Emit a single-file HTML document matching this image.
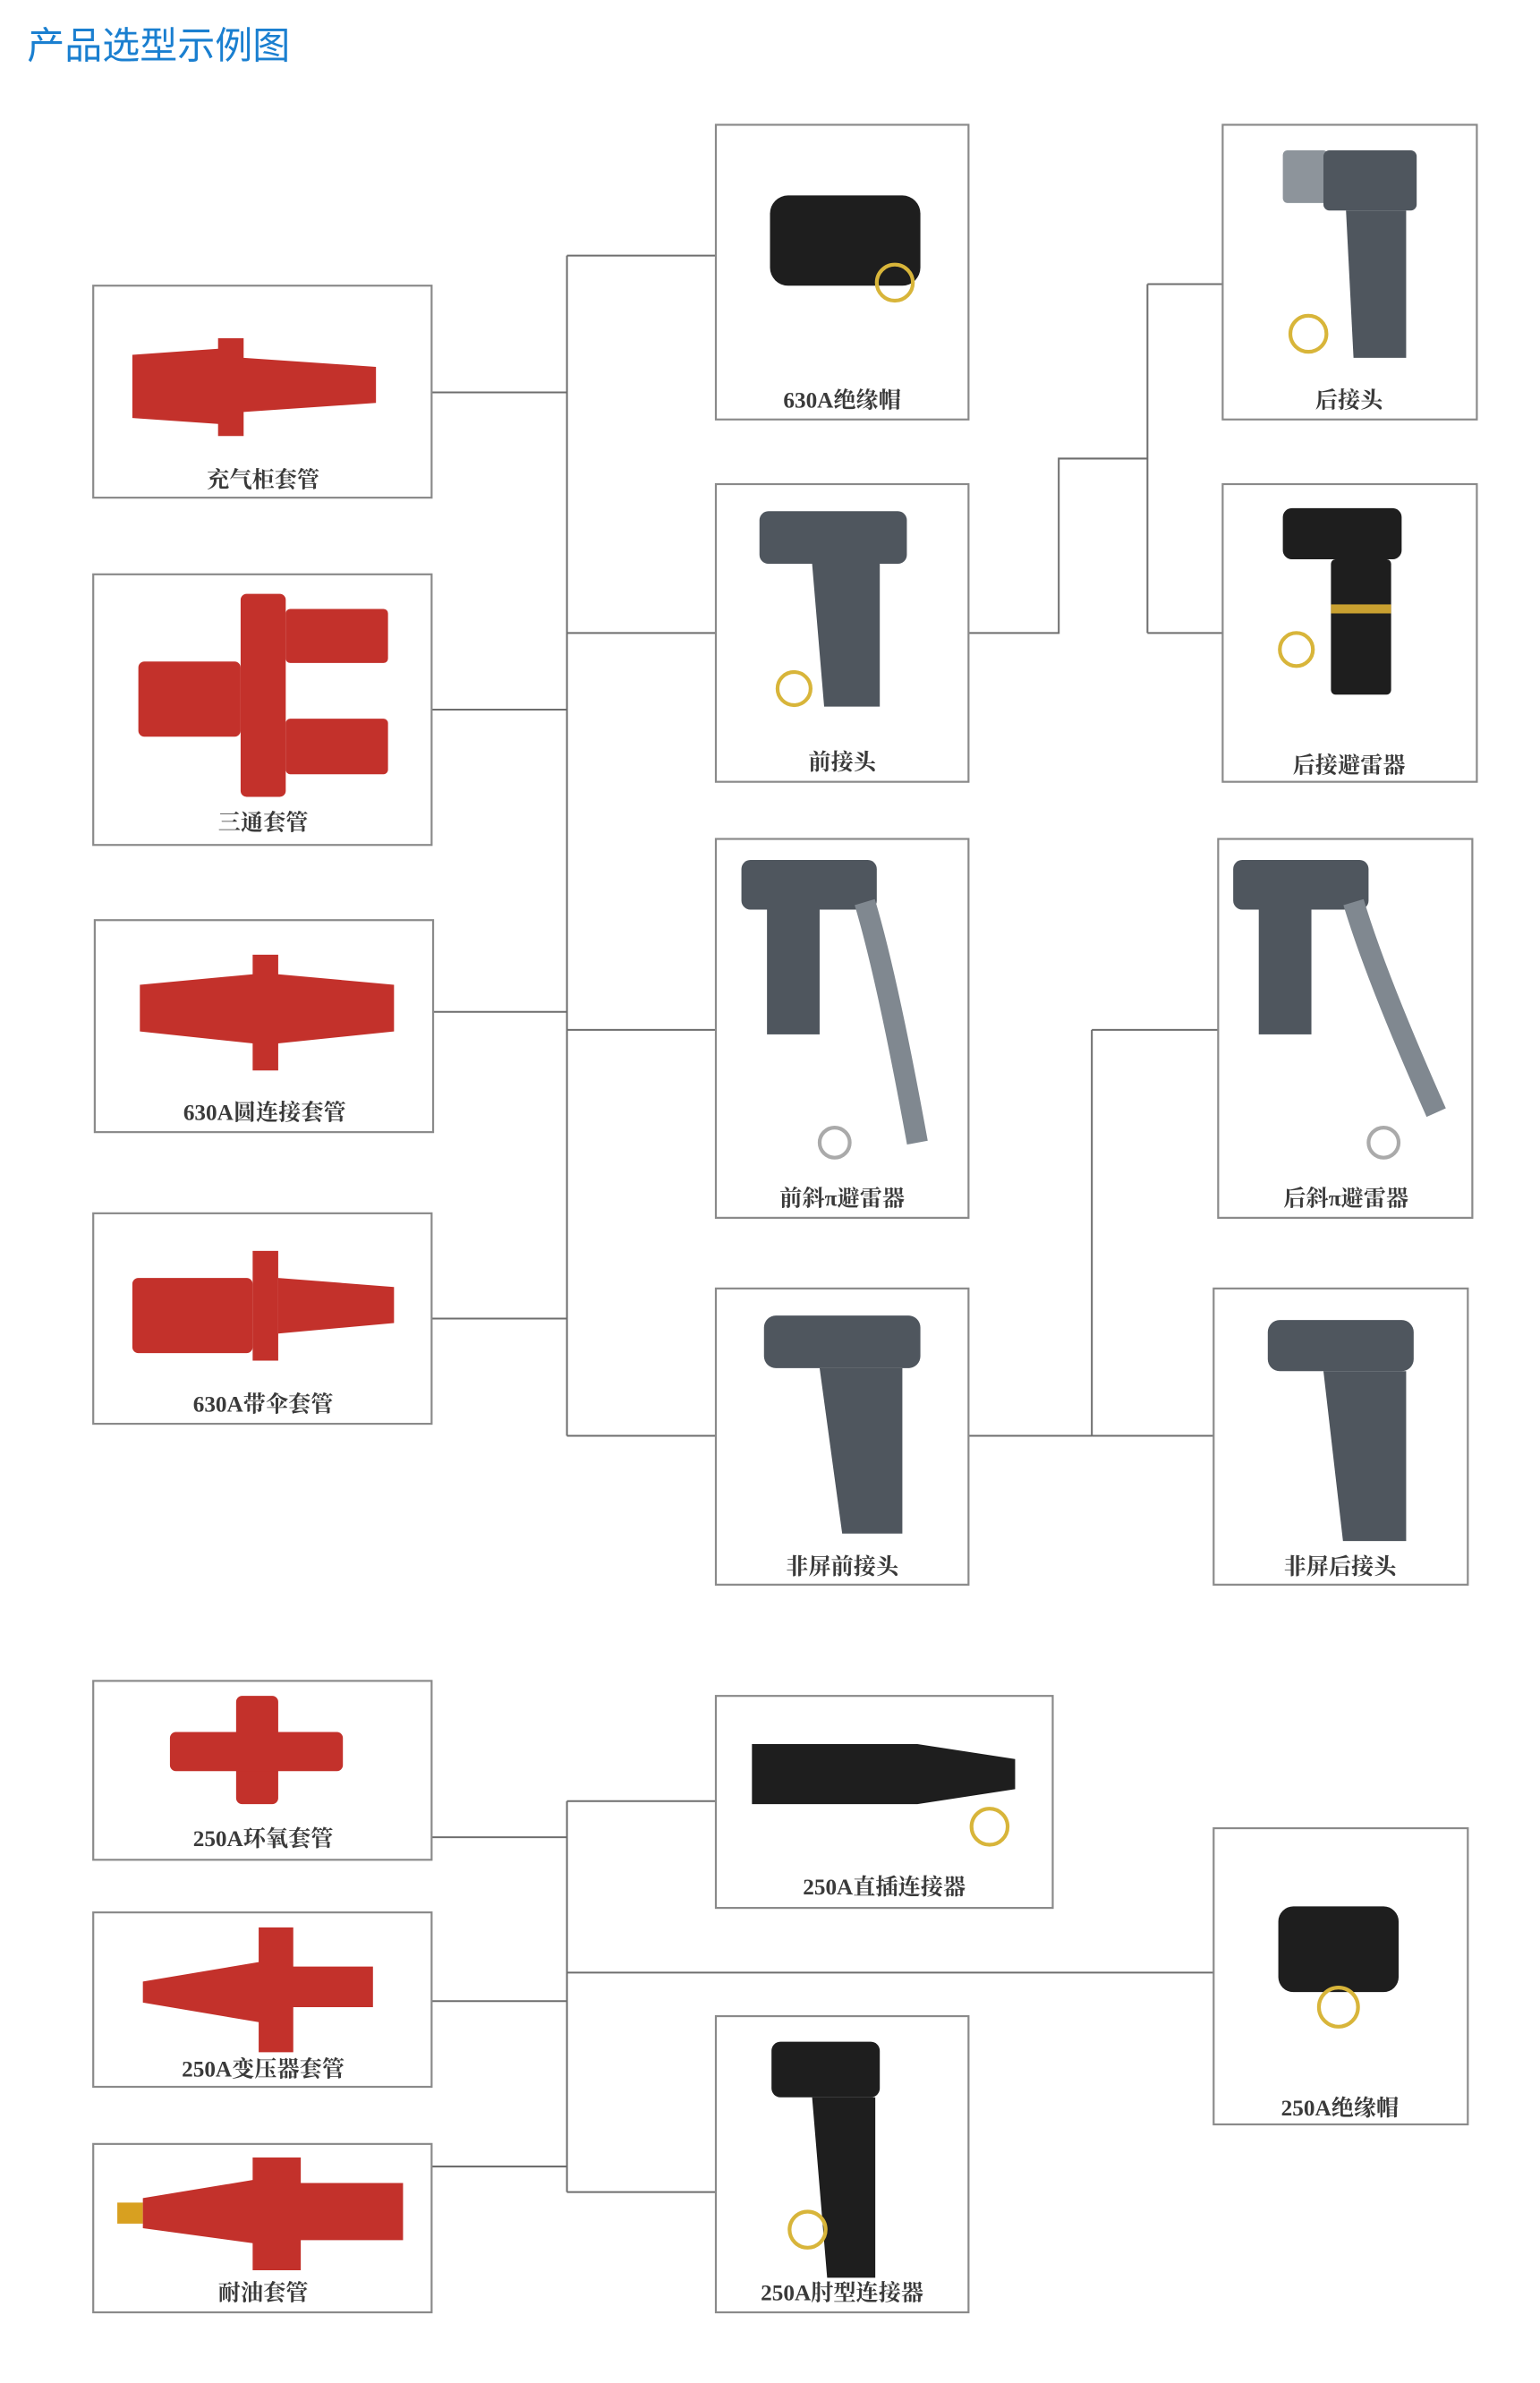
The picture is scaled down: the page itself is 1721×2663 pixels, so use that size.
<!DOCTYPE html>
<html><head><meta charset="utf-8"><style>
html,body{margin:0;padding:0;background:#fff}
svg{display:block}
text{font-family:"Liberation Serif","Noto Serif CJK SC",serif;font-weight:bold;fill:#3a3a3a;font-size:15px}
.t{font-family:"Liberation Sans","Noto Sans CJK SC",sans-serif;font-weight:normal;fill:#1a7fd0;font-size:25px}
.b{fill:#fff;stroke:#8a8a8a;stroke-width:1.3}
.l{stroke:#6e6e6e;stroke-width:1.2;fill:none}
.r{fill:#c3312b}
.g{fill:#4f565e}
.k{fill:#1e1e1e}
.lg{fill:#8d949b}
.y{fill:none;stroke:#d8b53a;stroke-width:2.5}
</style></head><body>
<svg width="1721" height="2663" viewBox="0 0 1024 1585" preserveAspectRatio="none">
<text class="t" x="18" y="39">产品选型示例图</text>
<g class="l">
<path d="M287 261H377M287 472H377M288 673H377M287 877H377M377 170V955M377 170H476M377 421H476M377 685H476M377 955H476"/>
<path d="M644 421H704V305H763M763 189V421M763 189H813M763 421H813"/>
<path d="M644 955H726M726 685V955M726 685H810M726 955H807"/>
<path d="M287 1222H377M287 1331H377M287 1441H377M377 1198V1458M377 1198H476M377 1312H807M377 1458H476"/>
</g>
<rect class="b" x="62" y="190" width="225" height="141"/>
<rect class="b" x="62" y="382" width="225" height="180"/>
<rect class="b" x="63" y="612" width="225" height="141"/>
<rect class="b" x="62" y="807" width="225" height="140"/>
<rect class="b" x="476" y="83" width="168" height="196"/>
<rect class="b" x="476" y="322" width="168" height="198"/>
<rect class="b" x="476" y="558" width="168" height="252"/>
<rect class="b" x="476" y="857" width="168" height="197"/>
<rect class="b" x="813" y="83" width="169" height="196"/>
<rect class="b" x="813" y="322" width="169" height="198"/>
<rect class="b" x="810" y="558" width="169" height="252"/>
<rect class="b" x="807" y="857" width="169" height="197"/>
<rect class="b" x="62" y="1118" width="225" height="119"/>
<rect class="b" x="62" y="1272" width="225" height="116"/>
<rect class="b" x="62" y="1426" width="225" height="112"/>
<rect class="b" x="476" y="1128" width="224" height="141"/>
<rect class="b" x="476" y="1341" width="168" height="197"/>
<rect class="b" x="807" y="1216" width="169" height="197"/>
<polygon class="r" points="88,236 145,232 145,225 162,225 162,238 250,244 250,268 162,274 162,290 145,290 145,282 88,278"/>
<rect class="r" x="92" y="440" width="68" height="50" rx="4"/>
<rect class="r" x="160" y="395" width="30" height="135" rx="4"/>
<rect class="r" x="190" y="405" width="68" height="36" rx="3"/>
<rect class="r" x="190" y="478" width="68" height="37" rx="3"/>
<polygon class="r" points="93,655 168,648 168,635 185,635 185,648 262,655 262,686 185,694 185,712 168,712 168,694 93,686"/>
<rect class="r" x="88" y="850" width="80" height="50" rx="4"/>
<rect class="r" x="168" y="832" width="17" height="73"/>
<polygon class="r" points="185,850 262,856 262,880 185,887"/>
<rect class="k" x="512" y="130" width="100" height="60" rx="12"/>
<circle class="y" cx="595" cy="188" r="12"/>
<rect class="g" x="505" y="340" width="98" height="35" rx="6"/>
<polygon class="g" points="540,375 585,375 585,470 548,470"/>
<circle class="y" cx="528" cy="458" r="11"/>
<rect class="lg" x="853" y="100" width="30" height="35" rx="3"/>
<rect class="g" x="880" y="100" width="62" height="40" rx="4"/>
<polygon class="g" points="895,140 935,140 935,238 900,238"/>
<circle class="y" cx="870" cy="222" r="12"/>
<rect class="k" x="853" y="338" width="79" height="34" rx="6"/>
<rect class="k" x="885" y="372" width="40" height="90" rx="3"/>
<rect x="885" y="402" width="40" height="6" fill="#c9a030"/>
<circle class="y" cx="862" cy="432" r="11"/>
<rect class="g" x="493" y="572" width="90" height="33" rx="6"/>
<rect class="g" x="510" y="605" width="35" height="83"/>
<path d="M575 600 Q590 650 610 760" stroke="#808890" stroke-width="14" fill="none"/>
<circle class="y" cx="555" cy="760" r="10" style="stroke:#aaa"/>
<rect class="g" x="820" y="572" width="90" height="33" rx="6"/>
<rect class="g" x="837" y="605" width="35" height="83"/>
<path d="M900 600 Q915 650 955 740" stroke="#808890" stroke-width="14" fill="none"/>
<circle class="y" cx="920" cy="760" r="10" style="stroke:#aaa"/>
<rect class="g" x="508" y="875" width="104" height="35" rx="8"/>
<polygon class="g" points="545,910 600,910 600,1020 560,1020"/>
<rect class="g" x="843" y="878" width="97" height="34" rx="8"/>
<polygon class="g" points="880,912 935,912 935,1025 893,1025"/>
<rect class="r" x="157" y="1128" width="28" height="72" rx="4"/>
<rect class="r" x="113" y="1152" width="115" height="26" rx="4"/>
<polygon class="r" points="95,1318 172,1305 172,1282 195,1282 195,1308 248,1308 248,1335 195,1335 195,1365 172,1365 172,1345 95,1332"/>
<rect x="78" y="1465" width="17" height="14" fill="#d8a020"/>
<polygon class="r" points="95,1462 168,1450 168,1435 200,1435 200,1452 268,1452 268,1490 200,1490 200,1510 168,1510 168,1492 95,1482"/>
<polygon class="k" points="500,1160 610,1160 675,1170 675,1190 610,1200 500,1200"/>
<circle class="y" cx="658" cy="1215" r="12"/>
<rect class="k" x="513" y="1358" width="72" height="37" rx="6"/>
<polygon class="k" points="540,1395 582,1395 582,1515 550,1515"/>
<circle class="y" cx="537" cy="1483" r="12"/>
<rect class="k" x="850" y="1268" width="80" height="57" rx="10"/>
<circle class="y" cx="890" cy="1335" r="13"/>
<text x="175" y="324" text-anchor="middle">充气柜套管</text>
<text x="175" y="552" text-anchor="middle">三通套管</text>
<text x="176" y="745" text-anchor="middle">630A圆连接套管</text>
<text x="175" y="939" text-anchor="middle">630A带伞套管</text>
<text x="560" y="271" text-anchor="middle">630A绝缘帽</text>
<text x="560" y="512" text-anchor="middle">前接头</text>
<text x="560" y="802" text-anchor="middle">前斜π避雷器</text>
<text x="560" y="1047" text-anchor="middle">非屏前接头</text>
<text x="897" y="271" text-anchor="middle">后接头</text>
<text x="897" y="514" text-anchor="middle">后接避雷器</text>
<text x="895" y="802" text-anchor="middle">后斜π避雷器</text>
<text x="891" y="1047" text-anchor="middle">非屏后接头</text>
<text x="175" y="1228" text-anchor="middle">250A环氧套管</text>
<text x="175" y="1381" text-anchor="middle">250A变压器套管</text>
<text x="175" y="1530" text-anchor="middle">耐油套管</text>
<text x="588" y="1260" text-anchor="middle">250A直插连接器</text>
<text x="560" y="1530" text-anchor="middle">250A肘型连接器</text>
<text x="891" y="1407" text-anchor="middle">250A绝缘帽</text>
</svg>
</body></html>
